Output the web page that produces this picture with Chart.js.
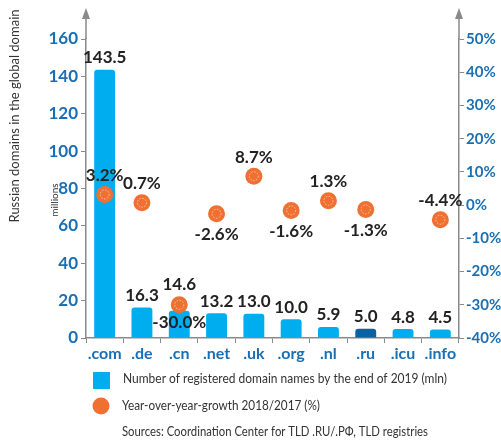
<!DOCTYPE html>
<html>
<head>
<meta charset="utf-8">
<script src="https://cdn.jsdelivr.net/npm/chart.js@4/dist/chart.umd.min.js"></script>
<style>
  html, body { margin: 0; padding: 0; background: #fff; }
  #wrap { width: 501px; height: 441px; position: relative; }
</style>
</head>
<body>
<div id="wrap"><canvas id="domainChart" width="501" height="441"></canvas></div>
<script>
var domains = [".com", ".de", ".cn", ".net", ".uk", ".org", ".nl", ".ru", ".icu", ".info"];
var domainCount = [143.5, 16.3, 14.6, 13.2, 13.0, 10.0, 5.9, 5.0, 4.8, 4.5];
var growth = [3.2, 0.7, -30.0, -2.6, 8.7, -1.6, 1.3, -1.3, null, -4.4];
var countTicks = [0, 20, 40, 60, 80, 100, 120, 140, 160];
var growthTicks = [-40, -30, -20, -10, 0, 10, 20, 30, 40, 50];
// where the growth label sits relative to its dot
var growthLabelSide = ["up", "up", "down", "down", "up", "down", "up", "down", null, "up"];

var blue = "#00adef";
var darkBlue = "#0b62a0";
var orange = "#f07032";
var tickBlue = "#1a6fb4";
var axisGray = "#8a8a8a";
var FONT = "Lato, 'Open Sans', sans-serif";

var barColors = domains.map(function (d) { return d === ".ru" ? darkBlue : blue; });

// draws text squeezed or stretched horizontally to a given width
function fitText(ctx, text, x, y, width) {
    var w = ctx.measureText(text).width;
    ctx.save();
    ctx.translate(x, y);
    ctx.scale(width / w, 1);
    ctx.fillText(text, 0, 0);
    ctx.restore();
}

var labelsPlugin = {
    id: "labelsPlugin",
    afterDatasetsDraw: function (chart) {
        var ctx = chart.ctx;
        var bars = chart.getDatasetMeta(1).data;
        var dots = chart.getDatasetMeta(0).data;
        ctx.save();
        // dashed ring inside each dot
        dots.forEach(function (p, i) {
            if (growth[i] === null) return;
            ctx.beginPath();
            ctx.setLineDash([1.5, 1.5]);
            ctx.strokeStyle = "rgba(255,255,255,0.7)";
            ctx.lineWidth = 0.8;
            ctx.arc(p.x, p.y, 4.5, 0, Math.PI * 2);
            ctx.stroke();
        });
        ctx.setLineDash([]);
        ctx.fillStyle = "#222";
        ctx.font = "bold 17px " + FONT;
        ctx.textAlign = "center";
        ctx.textBaseline = "middle";
        bars.forEach(function (b, i) {
            var y = b.y - 12;
            if (domains[i] === ".cn") y = b.y - 26;
            ctx.fillText(domainCount[i].toFixed(1), b.x, y);
        });
        dots.forEach(function (p, i) {
            if (growth[i] === null) return;
            var y = growthLabelSide[i] === "up" ? p.y - 19 : p.y + 21;
            if (domains[i] === ".cn") y = p.y + 18;
            ctx.fillText(growth[i].toFixed(1) + "%", p.x, y);
        });
        ctx.restore();
    },
    afterDraw: function (chart) {
        var ctx = chart.ctx;
        var area = chart.chartArea;
        ctx.save();
        // axis arrows
        ctx.strokeStyle = axisGray;
        ctx.fillStyle = axisGray;
        ctx.lineWidth = 1.5;
        [area.left, area.right].forEach(function (x) {
            ctx.beginPath();
            ctx.moveTo(x, area.top);
            ctx.lineTo(x, 14);
            ctx.stroke();
            ctx.beginPath();
            ctx.moveTo(x, 8);
            ctx.lineTo(x - 4, 19);
            ctx.lineTo(x + 4, 19);
            ctx.closePath();
            ctx.fill();
        });
        // axis titles
        ctx.fillStyle = "#333";
        ctx.textAlign = "center";
        ctx.textBaseline = "middle";
        ctx.save();
        ctx.translate(15, 116);
        ctx.rotate(-Math.PI / 2);
        ctx.font = "13px " + FONT;
        ctx.fillText("Russian domains in the global domain", 0, 0);
        ctx.restore();
        ctx.save();
        ctx.translate(55, 200);
        ctx.rotate(-Math.PI / 2);
        ctx.font = "10px " + FONT;
        ctx.fillText("millions", 0, 0);
        ctx.restore();
        // legend
        ctx.textAlign = "left";
        ctx.fillStyle = blue;
        ctx.fillRect(93, 372, 17, 17);
        ctx.beginPath();
        ctx.fillStyle = orange;
        ctx.arc(101, 406, 8.5, 0, Math.PI * 2);
        ctx.fill();
        ctx.fillStyle = "#333";
        ctx.font = "12.5px " + FONT;
        fitText(ctx, "Number of registered domain names by the end of 2019 (mln)", 123, 379, 324);
        fitText(ctx, "Year-over-year-growth 2018/2017 (%)", 122, 406, 198);
        fitText(ctx, "Sources: Coordination Center for TLD .RU/.\u0420\u0424, TLD registries", 122, 432, 306);
        ctx.restore();
    }
};

new Chart("domainChart", {
    data: {
        labels: domains,
        datasets: [{
            type: "line",
            data: growth,
            yAxisID: "y1",
            showLine: false,
            pointRadius: 8.5,
            pointHoverRadius: 8.5,
            pointBackgroundColor: orange,
            pointBorderWidth: 0,
            order: 0,
            label: "Year-over-year-growth 2018/2017 (%)"
        }, {
            type: "bar",
            data: domainCount,
            yAxisID: "y",
            backgroundColor: barColors,
            borderRadius: 3,
            borderSkipped: "bottom",
            barPercentage: 0.7,
            categoryPercentage: 0.8,
            order: 1,
            label: "Number of registered domain names by the end of 2019 (mln)"
        }]
    },
    options: {
        responsive: false,
        animation: false,
        layout: { autoPadding: false, padding: { top: 39, left: 0, right: 0, bottom: 0 } },
        plugins: {
            legend: { display: false },
            tooltip: { enabled: false }
        },
        scales: {
            x: {
                offset: true,
                afterFit: function (s) { s.height = 103; },
                grid: { offset: true, drawOnChartArea: false, drawTicks: true, tickLength: 5, color: axisGray, lineWidth: 1 },
                border: { color: axisGray, width: 1.5 },
                ticks: {
                    color: tickBlue,
                    font: { family: FONT, size: 16, weight: "bold" },
                    padding: 1,
                    maxRotation: 0,
                    minRotation: 0,
                    autoSkip: false
                }
            },
            y: {
                position: "left",
                min: 0,
                max: 160,
                afterFit: function (s) { s.width = 86; },
                afterBuildTicks: function (s) { s.ticks = countTicks.map(function (v) { return { value: v }; }); },
                grid: { drawOnChartArea: false, drawTicks: true, tickLength: 5, color: axisGray },
                border: { color: axisGray, width: 1.5 },
                ticks: { color: tickBlue, font: { family: FONT, size: 17, weight: "bold" }, padding: 3 }
            },
            y1: {
                position: "right",
                min: -40,
                max: 50,
                afterFit: function (s) { s.width = 42; },
                afterBuildTicks: function (s) { s.ticks = growthTicks.map(function (v) { return { value: v }; }); },
                grid: { drawOnChartArea: false, drawTicks: true, tickLength: 5, color: axisGray },
                border: { color: axisGray, width: 1.5 },
                ticks: {
                    color: tickBlue,
                    font: { family: FONT, size: 15, weight: "bold" },
                    padding: 2,
                    callback: function (v) { return v + "%"; }
                }
            }
        }
    },
    plugins: [labelsPlugin]
});
</script>
</body>
</html>
